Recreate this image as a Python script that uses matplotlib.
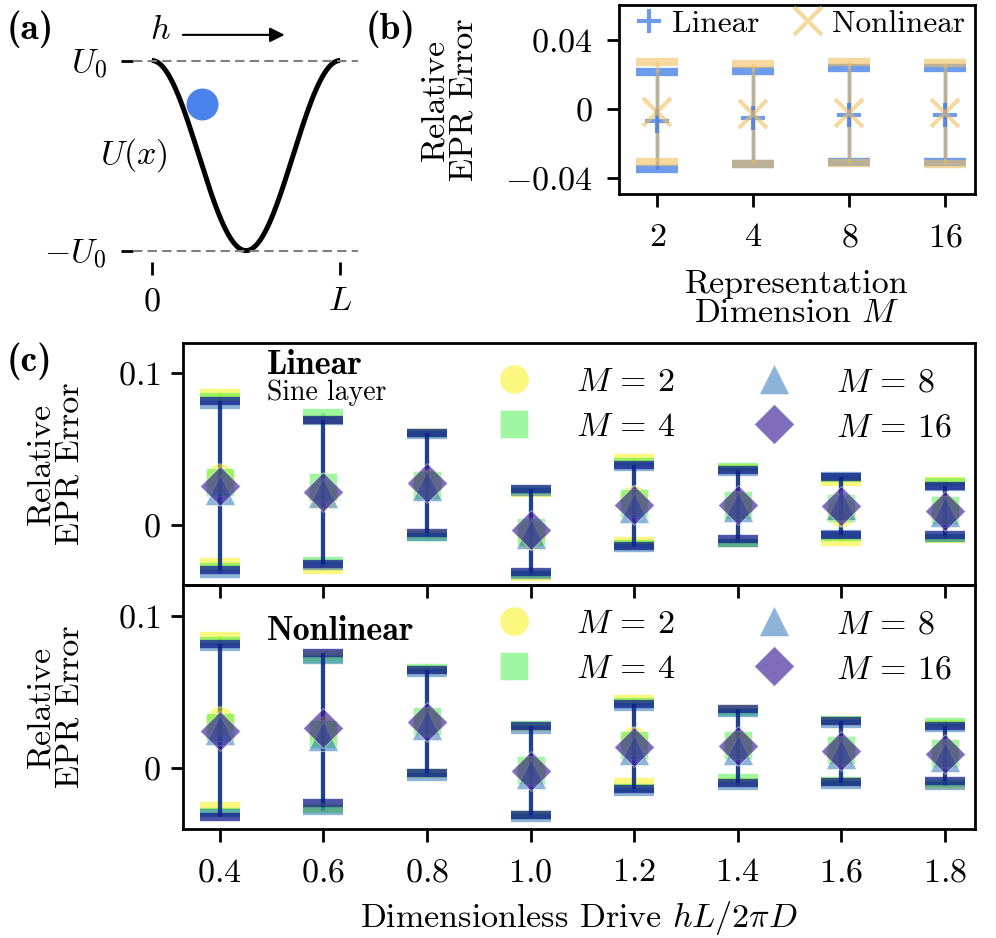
import numpy as np
import matplotlib
matplotlib.use("Agg")
import matplotlib.pyplot as plt
from matplotlib.colors import to_rgba
from matplotlib.lines import Line2D

# ---- panel (b): relative EPR error vs representation dimension ----
dims = ["2", "4", "8", "16"]
lin_mean = [-0.0068, -0.0049, -0.0035, -0.0035]
lin_err = [0.0280, 0.0270, 0.0272, 0.0272]
nonlin_mean = [-0.0016, -0.0029, -0.0020, -0.0025]
nonlin_err = [0.0287, 0.0289, 0.0292, 0.0292]

# ---- panel (c): relative EPR error vs drive, one row per M ----
drive = [0.4, 0.6, 0.8, 1.0, 1.2, 1.4, 1.6, 1.8]
m_labels = [r"$M\,=\,2$", r"$M\,=\,4$", r"$M\,=\,8$", r"$M\,=\,16$"]
lin_means = [
    [0.0310, 0.0195, 0.0270, -0.0070, 0.0164, 0.0125, 0.0084, 0.0095],
    [0.0280, 0.0247, 0.0260, -0.0050, 0.0140, 0.0128, 0.0110, 0.0095],
    [0.0230, 0.0205, 0.0255, -0.0060, 0.0110, 0.0115, 0.0130, 0.0080],
    [0.0257, 0.0214, 0.0274, -0.0039, 0.0126, 0.0131, 0.0125, 0.0092],
]
lin_errs = [
    [0.0561, 0.0495, 0.0335, 0.0280, 0.0274, 0.0250, 0.0200, 0.0190],
    [0.0560, 0.0487, 0.0345, 0.0280, 0.0270, 0.0252, 0.0195, 0.0185],
    [0.0560, 0.0480, 0.0335, 0.0275, 0.0268, 0.0235, 0.0190, 0.0168],
    [0.0557, 0.0476, 0.0333, 0.0274, 0.0268, 0.0230, 0.0192, 0.0164],
]
nonlin_means = [
    [0.0310, 0.0240, 0.0300, -0.0020, 0.0180, 0.0150, 0.0105, 0.0090],
    [0.0270, 0.0220, 0.0310, -0.0015, 0.0150, 0.0150, 0.0115, 0.0100],
    [0.0250, 0.0210, 0.0280, -0.0040, 0.0120, 0.0120, 0.0090, 0.0075],
    [0.0245, 0.0262, 0.0304, -0.0017, 0.0140, 0.0146, 0.0110, 0.0095],
]
nonlin_errs = [
    [0.0556, 0.0500, 0.0340, 0.0290, 0.0275, 0.0240, 0.0200, 0.0200],
    [0.0560, 0.0492, 0.0345, 0.0295, 0.0280, 0.0218, 0.0200, 0.0200],
    [0.0545, 0.0495, 0.0340, 0.0290, 0.0278, 0.0240, 0.0200, 0.0190],
    [0.0566, 0.0490, 0.0336, 0.0290, 0.0278, 0.0244, 0.0200, 0.0178],
]

# styles per M
markers = ["o", "s", "^", "D"]
msizes = [21, 20.5, 22, 20]
face = ["#f8f000", "#40f040", "#1a6ab4", "#3a1e96"]
face_alpha = [0.5, 0.5, 0.5, 0.65]
bar = ["#f8f000", "#40f040", "#1a6ab4", "#101c8c"]
bar_alpha = [0.5, 0.5, 0.5, 0.75]
lin_col = to_rgba("#3d7be8", 0.75)
nonlin_col = to_rgba("#f0c060", 0.6)

plt.rcParams.update({
    "font.family": "serif",
    "font.serif": ["cmr10"],
    "mathtext.fontset": "cm",
    "axes.formatter.use_mathtext": True,
    "font.size": 24.5,
    "axes.linewidth": 2.0,
    "xtick.major.width": 2.0, "ytick.major.width": 2.0,
    "xtick.major.size": 9, "ytick.major.size": 9,
})

W, H = 996, 938
fig = plt.figure(figsize=(W / 100, H / 100), dpi=100)


def px_axes(l, t, r, b):
    return fig.add_axes([l / W, 1 - b / H, (r - l) / W, (b - t) / H])


# ---------------- (a) schematic potential ----------------
axa = px_axes(133, 13, 358, 262)
xx = np.linspace(0, 1, 300)
axa.plot(xx, np.cos(2 * np.pi * xx), color="k", lw=3.6, zorder=2,
         solid_capstyle="butt")
for yl in (1, -1):
    axa.axhline(yl, color="gray", lw=1.5, dashes=(4.5, 2.5), zorder=3)
axa.plot([0.269], [0.541], "o", markersize=23, color="#4b83ec",
         markeredgecolor="none", zorder=4)
axa.annotate("", xy=(0.72, 1.27), xytext=(0.15, 1.27),
             arrowprops=dict(arrowstyle="-|>", lw=1.5, color="k", mutation_scale=22),
             annotation_clip=False)
axa.text(0.044, 1.32, "$h$", ha="center", va="center", clip_on=False)
axa.text(-0.094, 0.007, "$U(x)$", ha="center", va="center", clip_on=False)
axa.set_xlim(-0.1, 1.095)
axa.set_ylim(-1.12, 1.50)
axa.set_xticks([0, 1], ["$0$", "$L$"])
axa.set_yticks([-1, 1], ["$-U_0$", "$U_0$"])
for s in axa.spines.values():
    s.set_visible(False)
axa.tick_params(axis="y", pad=10)
axa.tick_params(axis="x", pad=9)

# ---------------- (b) error vs M ----------------
axb = px_axes(619, 5, 975, 194)
xb = np.arange(len(dims))
eb = axb.errorbar(xb, lin_mean, yerr=lin_err, fmt="+", markersize=17,
                  color=lin_col, elinewidth=2.5, capsize=15, capthick=6)
eb[0].set_markeredgewidth(3)
eb = axb.errorbar(xb, nonlin_mean, yerr=nonlin_err, fmt="x", markersize=20,
                  color=nonlin_col, elinewidth=2.5, capsize=15, capthick=6)
eb[0].set_markeredgewidth(3)
axb.set_xlim(-0.4, 3.31)
axb.set_ylim(-0.049, 0.06)
axb.set_xticks(xb, [f"${d}$" for d in dims])
axb.set_yticks([-0.04, 0, 0.04], ["$-0.04$", "$0$", "$0.04$"])
axb.tick_params(axis="x", pad=12)
axb.tick_params(axis="y", pad=10)
axb.set_ylabel("Relative\nEPR Error", linespacing=1.0)
axb.yaxis.set_label_coords(-0.396, 0.5)
axb.set_xlabel("Representation\nDimension $M$", linespacing=1.0)
axb.xaxis.set_label_coords(0.5, -0.40)
hb = [Line2D([], [], ls="none", marker="+", markersize=17, markeredgewidth=3, color=lin_col),
      Line2D([], [], ls="none", marker="x", markersize=20, markeredgewidth=3, color=nonlin_col)]
axb.legend(hb, ["Linear", "Nonlinear"], ncol=2, loc="upper left",
           bbox_to_anchor=(0.04, 0.975), frameon=False, borderpad=0,
           borderaxespad=0, handlelength=1.0, handletextpad=0.25,
           columnspacing=1.05, fontsize=22.5)

# ---------------- (c) error vs drive ----------------
axc1 = px_axes(183, 343, 975, 585)
axc2 = px_axes(183, 585, 975, 829)
axc2.set_facecolor("none")
panels = [(axc1, lin_means, lin_errs), (axc2, nonlin_means, nonlin_errs)]
for ax, means, errs in panels:
    for i in range(len(m_labels)):
        eb = ax.errorbar(drive, means[i], yerr=errs[i], fmt=markers[i],
                         markersize=msizes[i],
                         markerfacecolor=to_rgba(face[i], face_alpha[i]),
                         markeredgecolor=(1, 1, 1, 0.5),
                         ecolor=to_rgba(bar[i], bar_alpha[i]), elinewidth=3,
                         capsize=14.5, capthick=6)
        eb[0].set_markeredgewidth(0.7)
    ax.set_xlim(0.329, 1.858)
    ax.set_ylim(-0.04, 0.12)
    ax.set_xticks(drive, [f"${d:.1f}$" for d in drive])
    ax.set_yticks([0, 0.1], ["$0$", "$0.1$"])
    ax.tick_params(axis="y", pad=7)
    ax.tick_params(axis="x", pad=12)
    ax.set_ylabel("Relative\nEPR Error", linespacing=1.0)
    ax.yaxis.set_label_coords(-0.124, 0.5)
    hc = [Line2D([], [], ls="none", marker=markers[i], markersize=msizes[i],
                 markerfacecolor=to_rgba(face[i], face_alpha[i]),
                 markeredgecolor=(1, 1, 1, 0.5), markeredgewidth=0.7)
          for i in range(len(m_labels))]
    ax.legend(hc, m_labels, ncol=2, loc="upper left", bbox_to_anchor=(0.396, 0.90),
              frameon=False, borderpad=0, borderaxespad=0, handlelength=1.0,
              handletextpad=1.32, columnspacing=2.4, labelspacing=0.45)
axc1.tick_params(axis="x", labelbottom=False)
axc1.text(0.106, 0.87, "Linear", fontfamily="cmb10", transform=axc1.transAxes,
          ha="left", va="baseline")
axc1.text(0.106, 0.765, "Sine layer", transform=axc1.transAxes, ha="left", va="baseline",
          fontsize=20)
axc2.text(0.106, 0.775, "Nonlinear", fontfamily="cmb10", transform=axc2.transAxes,
          ha="left", va="baseline")
axc2.set_xlabel("Dimensionless Drive $hL/2\\pi D$")
axc2.xaxis.set_label_coords(0.5, -0.285)

# panel labels
for lab, px, py in [("(a)", 7, 29), ("(b)", 366, 29), ("(c)", 7, 361)]:
    fig.text(px / W, 1 - py / H, lab, fontfamily="cmb10", fontsize=27,
             va="center", ha="left")

fig.savefig("out.png", dpi=100)
